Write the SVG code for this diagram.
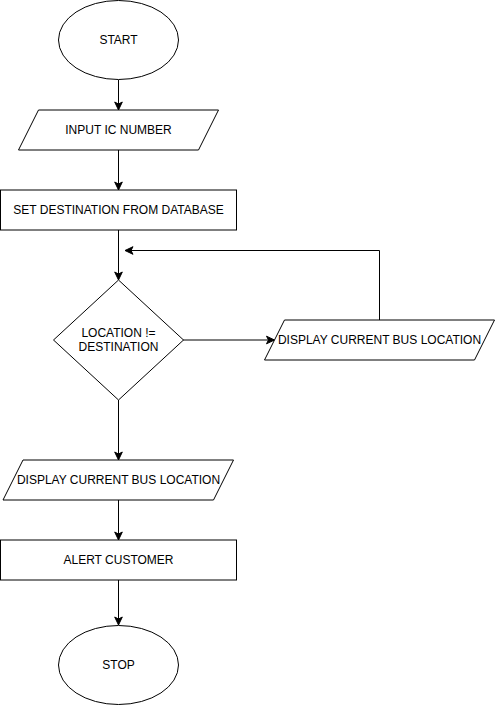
<svg xmlns="http://www.w3.org/2000/svg" width="495" height="706" viewBox="0 0 495 706">
<style>
.s{fill:#fff;stroke:#000;stroke-width:1}
.t{font-family:"Liberation Sans",Arial,sans-serif;font-size:12px;fill:#000;text-anchor:middle}
.e{fill:none;stroke:#000;stroke-width:1}
</style>
<defs>
<marker id="a" markerUnits="userSpaceOnUse" markerWidth="10" markerHeight="10" viewBox="0 0 10 10" refX="9" refY="5" orient="auto">
<path d="M1,1.2 L9,5 L1,8.8 L3,5 z" fill="#000" stroke="#000" stroke-width="1"/>
</marker>
</defs>
<rect width="495" height="706" fill="#fff"/>
<g id="connectors">
<path class="e" d="M118.5,80 V110" marker-end="url(#a)"/>
<path class="e" d="M118.5,150 V190" marker-end="url(#a)"/>
<path class="e" d="M118.5,230 V280" marker-end="url(#a)"/>
<path class="e" d="M183,340 H274.5" marker-end="url(#a)"/>
<path class="e" d="M379.5,320 V250.5 H125" marker-end="url(#a)"/>
<path class="e" d="M118.5,400 V460" marker-end="url(#a)"/>
<path class="e" d="M118.5,500 V540" marker-end="url(#a)"/>
<path class="e" d="M118.5,580 V625" marker-end="url(#a)"/>
</g>
<g id="start">
<ellipse class="s" cx="118.5" cy="40" rx="60" ry="39.5"/>
<text class="t" x="118.5" y="44">START</text>
</g>
<g id="input">
<polygon class="s" points="38.5,110 218.5,110 198.5,150 18.5,150"/>
<text class="t" x="118.5" y="134">INPUT IC NUMBER</text>
</g>
<g id="setdest">
<rect class="s" x="0.5" y="190" width="236" height="40"/>
<text class="t" x="118.5" y="214">SET DESTINATION FROM DATABASE</text>
</g>
<g id="decision">
<polygon class="s" points="118.5,280 183.5,340 118.5,400 53.5,340"/>
<text class="t" x="118.5" y="337">LOCATION !=</text>
<text class="t" x="118.5" y="351">DESTINATION</text>
</g>
<g id="display1">
<polygon class="s" points="284.5,320 494.5,320 474.5,360 264.5,360"/>
<text class="t" x="379.5" y="344">DISPLAY CURRENT BUS LOCATION</text>
</g>
<g id="display2">
<polygon class="s" points="23,460 233.5,460 213.5,500 3,500"/>
<text class="t" x="118.5" y="484">DISPLAY CURRENT BUS LOCATION</text>
</g>
<g id="alert">
<rect class="s" x="0.5" y="540" width="236" height="40"/>
<text class="t" x="118.5" y="564">ALERT CUSTOMER</text>
</g>
<g id="stop">
<ellipse class="s" cx="118.5" cy="665" rx="60" ry="39.5"/>
<text class="t" x="118.5" y="669">STOP</text>
</g>
</svg>
